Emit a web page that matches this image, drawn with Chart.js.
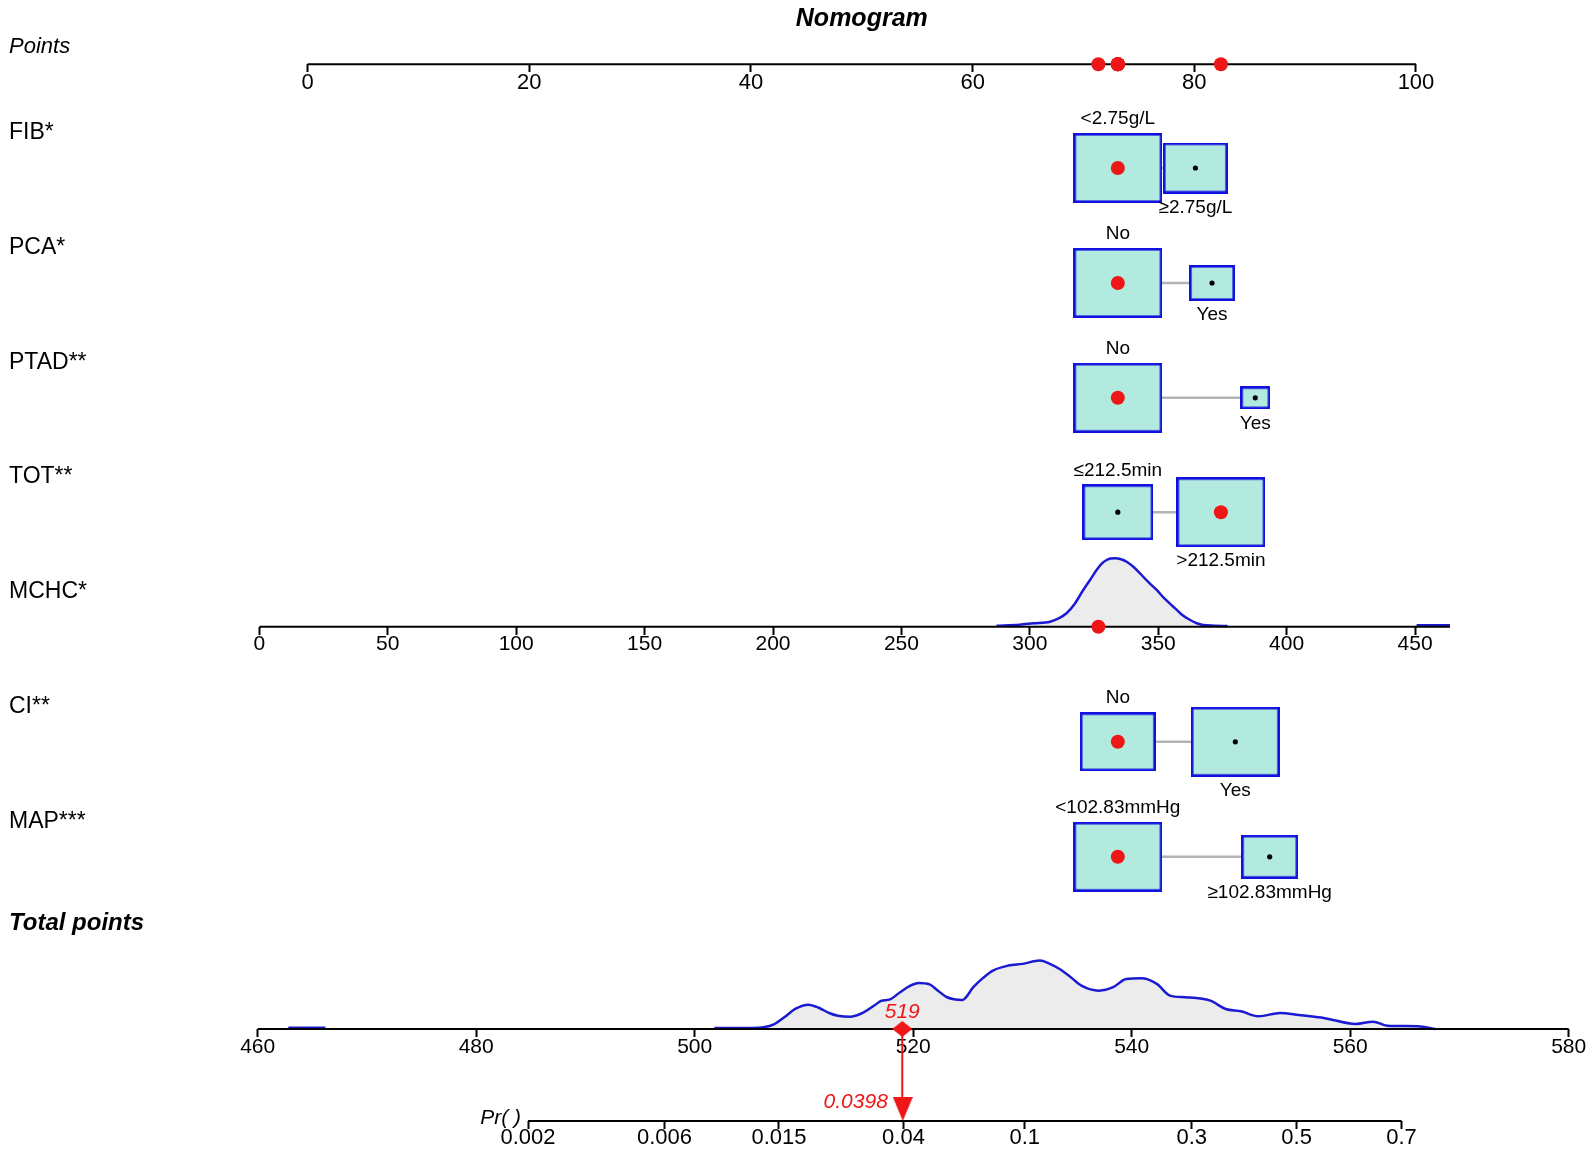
<!DOCTYPE html>
<html>
<head>
<meta charset="utf-8">
<title>Nomogram</title>
<script src="https://cdn.jsdelivr.net/npm/chart.js@4.4.1/dist/chart.umd.min.js"></script>
<style>
  html, body { margin: 0; padding: 0; background: #fff; }
  #wrap { position: relative; width: 1595px; height: 1155px; }
</style>
</head>
<body>
<div id="wrap"><canvas id="nomogram" width="1595" height="1155"></canvas></div>
<script>
// ---- values ----
const TITLE = 'Nomogram';
const POINT_TICKS = [0, 20, 40, 60, 80, 100];
const MCHC_TICKS = [0, 50, 100, 150, 200, 250, 300, 350, 400, 450];
const TOTAL_TICKS = [460, 480, 500, 520, 540, 560, 580];
const PR_TICKS = [0.002, 0.006, 0.015, 0.04, 0.1, 0.3, 0.5, 0.7];

// categorical predictors (MCHC sits between TOT and CI)
const CAT_NAMES = ['FIB*', 'PCA*', 'PTAD**', 'TOT**', 'CI**', 'MAP***'];
const CAT_LEVELS = [
  ['<2.75g/L', '≥2.75g/L'],
  ['No', 'Yes'],
  ['No', 'Yes'],
  ['≤212.5min', '>212.5min'],
  ['No', 'Yes'],
  ['<102.83mmHg', '≥102.83mmHg']
];
const CAT_POINTS = [[73.1, 80.1], [73.1, 81.6], [73.1, 85.5], [73.1, 82.4], [73.1, 83.7], [73.1, 86.8]];
const CAT_SHARE = [[0.65, 0.35], [0.79, 0.21], [0.90, 0.10], [0.39, 0.61], [0.42, 0.58], [0.71, 0.29]];
const CAT_PATIENT = [0, 0, 0, 1, 0, 0];   // level of the plotted patient

// continuous predictor
const MCHC_NAME = 'MCHC*';
const MCHC_RANGE = [0, 463.6];
const MCHC_PATIENT = 326.7;
const MCHC_PTS_AT_ZERO = -4.35;
const MCHC_PTS_PER_UNIT = 0.2317;
const MCHC_DENS_X = [287, 296, 301.3, 307.9, 311, 314.3, 317.5, 320.8, 323.5, 326, 328, 329.9, 331.5, 333.2,
  335.5, 337.7, 340.3, 342.9, 346, 349.4, 352.5, 355.9, 359, 362.4, 365, 367.5, 372, 377, 400, 450.6, 463.6];
const MCHC_DENS = [0.015, 0.03, 0.05, 0.073, 0.117, 0.196, 0.336, 0.537, 0.687, 0.829, 0.921, 0.975, 0.997, 1,
  0.987, 0.95, 0.877, 0.781, 0.658, 0.537, 0.409, 0.292, 0.183, 0.098, 0.051, 0.025, 0.015, 0.01, null, 0.02, 0.02];

// total points and risk
const TOTAL_RANGE = [460, 580];
const TOTAL_DENS_X = [462.8, 466.2, 480, 501.8, 505.3, 506.3, 507.3, 508.2, 509.2, 510.4, 511.4, 512.3, 513.1, 514.3,
  515.5, 516.5, 517.1, 517.8, 518.8, 519.7, 520.5, 521.5, 522.3, 523.1, 524.5, 525.5, 526.4, 527.3, 528.7, 530,
  531.6, 532.5, 533.4, 534.4, 535.4, 537, 538.3, 539.5, 540.9, 542.3, 543.5, 544.9, 547.2, 548.6, 550, 551.6,
  553.6, 555.3, 557.7, 560.5, 562.1, 563.4, 566.2, 567.8];
const TOTAL_DENS = [0.02, 0.02, null, 0.015, 0.015, 0.025, 0.073, 0.171, 0.293, 0.356, 0.307, 0.234, 0.195, 0.18,
  0.245, 0.351, 0.414, 0.429, 0.537, 0.63, 0.673, 0.652, 0.556, 0.464, 0.425, 0.611, 0.747, 0.854, 0.927, 0.952,
  1, 0.952, 0.878, 0.761, 0.634, 0.561, 0.611, 0.732, 0.742, 0.659, 0.488, 0.464, 0.414, 0.293, 0.259, 0.186,
  0.234, 0.205, 0.157, 0.073, 0.107, 0.048, 0.04, 0];
const TOTAL_SCORE = 519;
const PRED_PROB = 0.0398;
const LOGIT_SLOPE = 0.0883;   // logit(p) = slope * (total - mid)
const LOGIT_MID = 555.1;

// ---- layout ----
const W = 1595, H = 1155;
const PTS_MIN = -27.75, PTS_MAX = 116.15;
const TOT_MIN = 436.41, TOT_MAX = 582.41;
const Y_POINTS = 64.3, Y_MCHC = 626.7, Y_TOTAL = 1029, Y_PR = 1121;
const CAT_Y = [168, 283, 397.8, 512.2, 741.8, 856.8];
const LABEL_X = 9;
const BOX_W = 89, BOX_H = 69.5;
const DENS_PX = 68.4;
const SANS = '"Liberation Sans", Arial, Helvetica, sans-serif';
const RED = '#ee1616';
const BOX_FILL = '#b3eadf';
const BOX_EDGE = '#1212e0';
const DENS_LINE = '#1a1ad2';
const DENS_FILL = '#ececec';

const mchcToPts = v => MCHC_PTS_AT_ZERO + MCHC_PTS_PER_UNIT * v;
const ptsToMchc = p => (p - MCHC_PTS_AT_ZERO) / MCHC_PTS_PER_UNIT;
const probToTotal = p => LOGIT_MID + Math.log(p / (1 - p)) / LOGIT_SLOPE;

function shapeCanvas(w, h, draw) {
  const c = document.createElement('canvas');
  c.width = Math.round(w);
  c.height = Math.round(h);
  draw(c.getContext('2d'), c.width, c.height);
  return c;
}

// one box per level, sized by the share of patients in it
const boxes = [];
CAT_NAMES.forEach((name, i) => {
  const maxShare = Math.max(...CAT_SHARE[i]);
  CAT_LEVELS[i].forEach((lvl, j) => {
    const k = Math.sqrt(CAT_SHARE[i][j] / maxShare);
    const w = BOX_W * k, h = BOX_H * k;
    boxes.push({
      x: CAT_POINTS[i][j], y: CAT_Y[i], w, h, label: lvl, above: j === 0,
      img: shapeCanvas(w, h, (g, cw, ch) => {
        g.fillStyle = BOX_FILL;
        g.fillRect(0, 0, cw, ch);
        g.strokeStyle = BOX_EDGE;
        g.lineWidth = 2.6;
        g.strokeRect(1.3, 1.3, cw - 2.6, ch - 2.6);
      })
    });
  });
});

const diamond = shapeCanvas(20, 16, (g) => {
  g.fillStyle = RED;
  g.beginPath(); g.moveTo(10, 0); g.lineTo(20, 8); g.lineTo(10, 16); g.lineTo(0, 8); g.closePath(); g.fill();
});
const triangle = shapeCanvas(20, 24, (g) => {
  g.fillStyle = RED;
  g.beginPath(); g.moveTo(0, 0); g.lineTo(20, 0); g.lineTo(10, 24); g.closePath(); g.fill();
});

function axisLine(scaleId, from, to, y) {
  return {
    type: 'line', xAxisID: scaleId, yAxisID: 'y',
    data: [{x: from, y: y}, {x: to, y: y}],
    borderColor: '#000', borderWidth: 2, pointRadius: 0, order: 8
  };
}

function densityLine(scaleId, xs, hs, base) {
  return {
    type: 'line', xAxisID: scaleId, yAxisID: 'y',
    data: xs.map((v, i) => ({x: v, y: hs[i] === null ? null : base - hs[i] * DENS_PX})),
    borderColor: DENS_LINE, borderWidth: 2.5, backgroundColor: DENS_FILL,
    fill: {value: base}, pointRadius: 0, cubicInterpolationMode: 'monotone', order: 9
  };
}

const patientPts = CAT_POINTS.map((p, i) => p[CAT_PATIENT[i]]).concat([mchcToPts(MCHC_PATIENT)]);

const datasets = [
  densityLine('xm', MCHC_DENS_X, MCHC_DENS, Y_MCHC),
  densityLine('xt', TOTAL_DENS_X, TOTAL_DENS, Y_TOTAL),
  axisLine('x', POINT_TICKS[0], POINT_TICKS[POINT_TICKS.length - 1], Y_POINTS),
  axisLine('xm', MCHC_RANGE[0], MCHC_RANGE[1], Y_MCHC),
  axisLine('xt', TOTAL_RANGE[0], TOTAL_RANGE[1], Y_TOTAL),
  axisLine('xt', probToTotal(PR_TICKS[0]), probToTotal(PR_TICKS[PR_TICKS.length - 1]), Y_PR),
  ...CAT_POINTS.map((p, i) => ({
    type: 'line', xAxisID: 'x', yAxisID: 'y',
    data: [{x: p[0], y: CAT_Y[i]}, {x: p[1], y: CAT_Y[i]}],
    borderColor: '#b4b4b4', borderWidth: 2.5, pointRadius: 0, order: 7
  })),
  {
    type: 'scatter', xAxisID: 'x', yAxisID: 'y',
    data: boxes.map(b => ({x: b.x, y: b.y})),
    pointStyle: boxes.map(b => b.img), pointRadius: 1, order: 6
  },
  {
    type: 'scatter', xAxisID: 'x', yAxisID: 'y',
    data: boxes.map(b => ({x: b.x, y: b.y})),
    pointRadius: 2.6, pointBackgroundColor: '#000', pointBorderWidth: 0, order: 5
  },
  {
    type: 'scatter', xAxisID: 'x', yAxisID: 'y',
    data: CAT_POINTS.map((p, i) => ({x: p[CAT_PATIENT[i]], y: CAT_Y[i]}))
      .concat(patientPts.map(p => ({x: p, y: Y_POINTS}))),
    pointRadius: 7, pointBackgroundColor: RED, pointBorderWidth: 0, order: 4
  },
  {
    type: 'scatter', xAxisID: 'xm', yAxisID: 'y',
    data: [{x: MCHC_PATIENT, y: Y_MCHC}],
    pointRadius: 7, pointBackgroundColor: RED, pointBorderWidth: 0, order: 4
  },
  {
    type: 'line', xAxisID: 'xt', yAxisID: 'y',
    data: [{x: TOTAL_SCORE, y: Y_TOTAL}, {x: TOTAL_SCORE, y: Y_PR - 22}],
    borderColor: RED, borderWidth: 2, pointRadius: 0, order: 3
  },
  {
    type: 'scatter', xAxisID: 'xt', yAxisID: 'y',
    data: [{x: TOTAL_SCORE, y: Y_TOTAL}],
    pointStyle: diamond, pointRadius: 1, order: 2
  },
  {
    type: 'scatter', xAxisID: 'xt', yAxisID: 'y',
    data: [{x: probToTotal(PRED_PROB), y: Y_PR - 12}],
    pointStyle: triangle, pointRadius: 1, order: 2
  }
];

function axisScale(min, max, rowY, ticks, labels, font, pad) {
  return {
    type: 'linear', axis: 'x', min: min, max: max, bounds: 'data', offset: false,
    position: {y: rowY},
    afterFit: s => { s.height = 0; },
    afterBuildTicks: s => { s.ticks = ticks.map(v => ({value: v})); },
    border: {display: false},
    grid: {display: true, drawOnChartArea: false, drawTicks: true, tickLength: 8, tickWidth: 2, tickColor: '#000'},
    ticks: {
      autoSkip: false, maxRotation: 0, minRotation: 0, padding: pad, color: '#000',
      font: font, callback: (v, i) => labels[i]
    }
  };
}

// text that Chart.js has no element for: title, row names, level names, the patient's score
const textPlugin = {
  id: 'nomoText',
  afterDatasetsDraw(chart) {
    const {ctx, scales} = chart;
    const sx = scales.x, st = scales.xt, sy = scales.y;
    ctx.save();
    ctx.textBaseline = 'middle';
    ctx.fillStyle = '#000';

    ctx.textAlign = 'center';
    ctx.font = 'italic bold 25px ' + SANS;
    ctx.fillText(TITLE, sx.getPixelForValue(50), 19);

    ctx.textAlign = 'left';
    ctx.font = 'italic 22px ' + SANS;
    ctx.fillText('Points', LABEL_X, sy.getPixelForValue(Y_POINTS) - 17);
    ctx.font = '23px ' + SANS;
    CAT_NAMES.forEach((n, i) => ctx.fillText(n, LABEL_X, sy.getPixelForValue(CAT_Y[i]) - 35.5));
    ctx.fillText(MCHC_NAME, LABEL_X, sy.getPixelForValue(Y_MCHC) - 35.5);
    ctx.font = 'italic bold 24px ' + SANS;
    ctx.fillText('Total points', LABEL_X, 923.5);

    ctx.textAlign = 'center';
    ctx.font = '19px ' + SANS;
    boxes.forEach(b => {
      const cy = sy.getPixelForValue(b.y);
      ctx.fillText(b.label, sx.getPixelForValue(b.x), b.above ? cy - b.h / 2 - 14 : cy + b.h / 2 + 14);
    });

    ctx.font = 'italic 21px ' + SANS;
    ctx.textAlign = 'right';
    ctx.fillText('Pr( )', st.getPixelForValue(probToTotal(PR_TICKS[0])) - 7, sy.getPixelForValue(Y_PR) - 3);

    ctx.fillStyle = RED;
    ctx.textAlign = 'center';
    ctx.fillText(String(TOTAL_SCORE), st.getPixelForValue(TOTAL_SCORE), sy.getPixelForValue(Y_TOTAL) - 16.5);
    ctx.textAlign = 'right';
    ctx.fillText(PRED_PROB.toFixed(4), st.getPixelForValue(probToTotal(PRED_PROB)) - 15, sy.getPixelForValue(Y_PR) - 18.5);
    ctx.restore();
  }
};

new Chart(document.getElementById('nomogram'), {
  type: 'scatter',
  data: {datasets: datasets},
  options: {
    responsive: false,
    animation: false,
    events: [],
    layout: {padding: 0, autoPadding: false},
    plugins: {legend: {display: false}, tooltip: {enabled: false}, title: {display: false}},
    scales: {
      x: axisScale(PTS_MIN, PTS_MAX, Y_POINTS, POINT_TICKS, POINT_TICKS.map(String),
        {family: SANS, size: 22, lineHeight: 1}, -0.8),
      xm: axisScale(ptsToMchc(PTS_MIN), ptsToMchc(PTS_MAX), Y_MCHC, MCHC_TICKS, MCHC_TICKS.map(String),
        {family: SANS, size: 21, lineHeight: 1}, -1),
      xt: axisScale(TOT_MIN, TOT_MAX, Y_TOTAL, TOTAL_TICKS, TOTAL_TICKS.map(String),
        {family: SANS, size: 21, lineHeight: 1}, 0),
      xp: axisScale(TOT_MIN, TOT_MAX, Y_PR, PR_TICKS.map(probToTotal), PR_TICKS.map(String),
        {family: SANS, size: 22, lineHeight: 1}, -1.7),
      y: {type: 'linear', min: 0, max: H, reverse: true, display: false, bounds: 'data'}
    }
  },
  plugins: [textPlugin]
});
</script>
</body>
</html>
